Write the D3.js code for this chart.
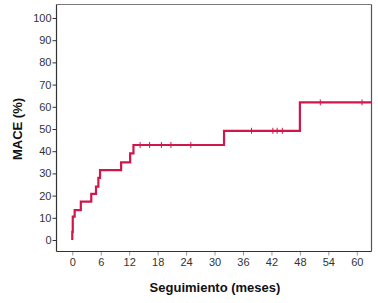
<!DOCTYPE html>
<html><head><meta charset="utf-8">
<script src="https://cdn.jsdelivr.net/npm/d3@7"></script>
<style>html,body{margin:0;padding:0;background:#fff;}svg{display:block;}</style>
</head><body>
<script>
const stepTimes  = [0, 0, 0.1, 0.5, 1.8, 4.0, 5.0, 5.5, 5.85, 10.3, 12.2, 12.9, 32.0, 48.0];
const stepValues = [0, 3.7, 10.5, 13.5, 17.3, 20.8, 24.0, 28.0, 31.5, 35.0, 39.0, 42.8, 49.2, 62.0];
const endTime = 63.1;
const censorTimes = [14.3, 16.3, 18.8, 20.8, 25.0, 37.8, 42.3, 43.2, 44.3, 52.3, 61.1];
const xTicks = [0, 6, 12, 18, 24, 30, 36, 42, 48, 54, 60];
const yTicks = [0, 10, 20, 30, 40, 50, 60, 70, 80, 90, 100];
const xTitle = "Seguimiento (meses)";
const yTitle = "MACE (%)";

const W = 378, H = 303;
const L = 56.5, R = 371.5, T = 4.5, B = 251.5;
const svg = d3.select("body").append("svg").attr("width", W).attr("height", H);

const x = d3.scaleLinear().domain([-3.33, 63.1]).range([L, R]);
const y = d3.scaleLinear().domain([0, 100]).range([240, 18]);

// frame top/right
svg.append("line").attr("x1", L).attr("x2", R).attr("y1", T).attr("y2", T).attr("stroke", "#7a7a7a").attr("stroke-width", 1.2);
svg.append("line").attr("x1", R).attr("x2", R).attr("y1", T).attr("y2", B).attr("stroke", "#555").attr("stroke-width", 1.2);

const font = "Arial, 'Liberation Sans', sans-serif";

// y axis
const ya = svg.append("g").attr("transform", `translate(${L},0)`)
  .call(d3.axisLeft(y).tickValues(yTicks).tickSize(4).tickPadding(1).tickFormat(d3.format("d")));
ya.select(".domain").remove();
ya.append("line").attr("x1", 0).attr("x2", 0).attr("y1", T).attr("y2", B).attr("stroke", "#333").attr("stroke-width", 1.2);
ya.selectAll(".tick line").attr("stroke", "#333");
ya.selectAll(".tick text").attr("fill", "#333").style("font", `11px ${font}`);

// x axis
const xa = svg.append("g").attr("transform", `translate(0,${B})`)
  .call(d3.axisBottom(x).tickValues(xTicks).tickSize(4).tickPadding(3).tickFormat(d3.format("d")));
xa.select(".domain").remove();
xa.append("line").attr("x1", L).attr("x2", R).attr("y1", 0).attr("y2", 0).attr("stroke", "#333").attr("stroke-width", 1.2);
xa.selectAll(".tick line").attr("stroke", "#999");
xa.selectAll(".tick text").attr("fill", "#333").style("font", `11px ${font}`);

// titles
svg.append("text").attr("x", 215).attr("y", 292).attr("text-anchor", "middle")
  .style("font", `bold 13px ${font}`).attr("fill", "#111").text(xTitle);
svg.append("text").attr("transform", "translate(22,129) rotate(-90)").attr("text-anchor", "middle")
  .style("font", `bold 13px ${font}`).attr("fill", "#111").text(yTitle);

// KM curve
const pts = stepTimes.map((t, i) => [t, stepValues[i]]);
pts.push([endTime, stepValues[stepValues.length - 1]]);
const line = d3.line().x(d => x(d[0])).y(d => y(d[1])).curve(d3.curveStepAfter);
svg.append("path").datum(pts).attr("d", line).attr("fill", "none")
  .attr("stroke", "#d0174a").attr("stroke-width", 2.2);

function valueAt(t) {
  let v = 0;
  stepTimes.forEach((s, i) => { if (s <= t) v = stepValues[i]; });
  return v;
}
svg.append("g").selectAll("line").data(censorTimes).join("line")
  .attr("x1", d => x(d)).attr("x2", d => x(d))
  .attr("y1", d => y(valueAt(d)) - 3).attr("y2", d => y(valueAt(d)) + 3)
  .attr("stroke", "#d0174a").attr("stroke-width", 1);
</script>
</body></html>
